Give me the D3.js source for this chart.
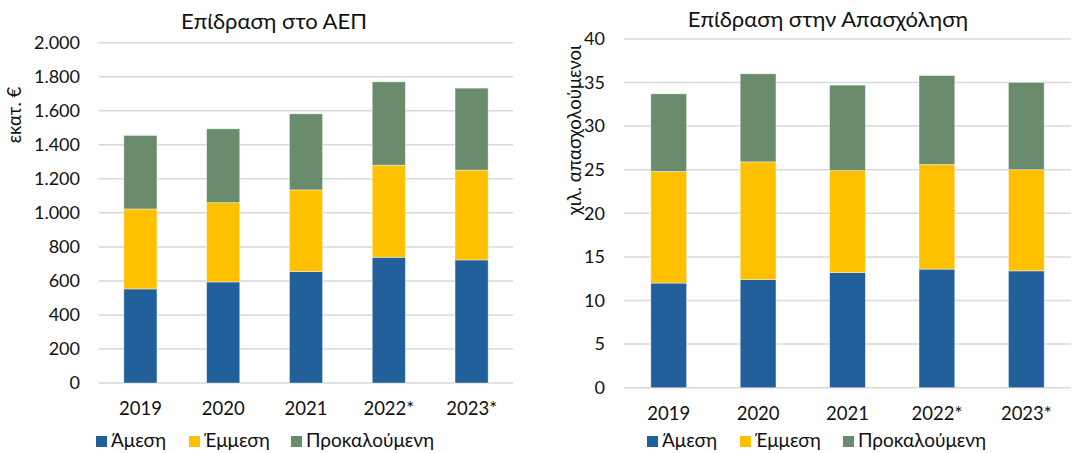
<!DOCTYPE html>
<html>
<head>
<meta charset="utf-8">
<script src="https://cdn.jsdelivr.net/npm/d3@7"></script>
<style>
  body { margin: 0; background: #fff; }
  svg text { font-family: Lato, "Open Sans", sans-serif; fill: #111; }
</style>
</head>
<body>
<div class="canvas"></div>
<script>
const years = ['2019', '2020', '2021', '2022*', '2023*'];
const seriesNames = ['Άμεση', 'Έμμεση', 'Προκαλούμενη'];
const colors = ['#21609b', '#ffc000', '#6b8c6c'];

// Επίδραση στο ΑΕΠ (εκατ. €)
const gdpDirect = [553, 594, 655, 739, 723];
const gdpIndirect = [470, 466, 480, 541, 528];
const gdpInduced = [432, 434, 447, 490, 482];
const gdpTicks = [0, 200, 400, 600, 800, 1000, 1200, 1400, 1600, 1800, 2000];

// Επίδραση στην Απασχόληση (χιλ. απασχολούμενοι)
const jobsDirect = [12.0, 12.4, 13.2, 13.6, 13.4];
const jobsIndirect = [12.8, 13.5, 11.7, 12.0, 11.6];
const jobsInduced = [8.9, 10.1, 9.8, 10.2, 10.0];
const jobsTicks = [0, 5, 10, 15, 20, 25, 30, 35, 40];

const width = 1080, height = 453;
const svg = d3.select('.canvas')
    .append('svg')
    .attr('width', width)
    .attr('height', height);

function drawPanel(cfg) {
    const rows = years.map((y, i) => ({
        year: y,
        [seriesNames[0]]: cfg.series[0][i],
        [seriesNames[1]]: cfg.series[1][i],
        [seriesNames[2]]: cfg.series[2][i]
    }));
    const stacked = d3.stack().keys(seriesNames)(rows);

    const x = d3.scaleBand()
        .domain(years)
        .range([cfg.left, cfg.right])
        .paddingInner(0.6)
        .paddingOuter(0.3);

    const y = d3.scaleLinear()
        .domain([0, cfg.max])
        .range([cfg.bottom, cfg.top]);

    const g = svg.append('g');

    //gridlines
    g.append('g')
        .selectAll('line')
        .data(cfg.ticks)
        .enter()
        .append('line')
        .attr('x1', cfg.left)
        .attr('x2', cfg.right)
        .attr('y1', d => y(d))
        .attr('y2', d => y(d))
        .attr('stroke', '#d9d9d9')
        .attr('stroke-width', 1.5);

    //bars
    g.append('g')
        .selectAll('g')
        .data(stacked)
        .enter()
        .append('g')
        .attr('fill', (d, i) => colors[i])
        .selectAll('rect')
        .data(d => d)
        .enter()
        .append('rect')
        .attr('x', d => x(d.data.year))
        .attr('width', x.bandwidth())
        .attr('y', d => y(d[1]))
        .attr('height', d => y(d[0]) - y(d[1]))
        .attr('stroke', 'rgba(255,255,255,0.5)')
        .attr('stroke-width', 0.8);

    //y-axis
    const yAxis = d3.axisLeft(y)
        .tickValues(cfg.ticks)
        .tickFormat(cfg.format)
        .tickSize(0)
        .tickPadding(cfg.yPad);
    g.append('g')
        .attr('transform', `translate(${cfg.left}, 0)`)
        .call(yAxis)
        .call(a => a.select('.domain').remove())
        .call(a => a.selectAll('text')
            .style('font-size', '18px')
            .attr('fill', '#111'));

    //x-axis
    const xAxis = d3.axisBottom(x).tickSize(0).tickPadding(cfg.xPad);
    g.append('g')
        .attr('transform', `translate(0, ${cfg.bottom})`)
        .call(xAxis)
        .call(a => a.select('.domain').remove())
        .call(a => a.selectAll('text')
            .style('font-size', '18.5px')
            .attr('fill', '#111'));

    //title
    g.append('text')
        .attr('x', cfg.titleX)
        .attr('y', cfg.titleY)
        .attr('text-anchor', 'middle')
        .style('font-size', '22px')
        .text(cfg.title);

    //y label
    g.append('text')
        .attr('transform', `translate(${cfg.labelX}, ${cfg.labelY}) rotate(-90)`)
        .attr('text-anchor', 'middle')
        .style('font-size', '18.5px')
        .text(cfg.yLabel);

    //legend
    const leg = g.append('g')
        .selectAll('g')
        .data(seriesNames)
        .enter()
        .append('g')
        .attr('transform', (d, i) => `translate(${cfg.legendX[i]}, ${cfg.legendY})`);
    leg.append('rect')
        .attr('width', 11)
        .attr('height', 11)
        .attr('y', -11)
        .attr('fill', (d, i) => colors[i]);
    leg.append('text')
        .attr('x', cfg.legendGap)
        .attr('y', 0)
        .style('font-size', '19px')
        .text(d => d);
}

drawPanel({
    series: [gdpDirect, gdpIndirect, gdpInduced],
    ticks: gdpTicks,
    max: 2000,
    format: d3.formatLocale({ decimal: ',', thousands: '.', grouping: [3], currency: ['', '€'] }).format(',.0f'),
    left: 99, right: 513, top: 42.7, bottom: 383,
    yPad: 19, xPad: 19,
    title: 'Επίδραση στο ΑΕΠ', titleX: 274, titleY: 29,
    yLabel: 'εκατ. €', labelX: 21, labelY: 115,
    legendX: [96, 189, 291], legendY: 447, legendGap: 15
});

drawPanel({
    series: [jobsDirect, jobsIndirect, jobsInduced],
    ticks: jobsTicks,
    max: 40,
    format: d3.format('d'),
    left: 624, right: 1071, top: 38.9, bottom: 387.7,
    yPad: 19, xPad: 19,
    title: 'Επίδραση στην Απασχόληση', titleX: 828, titleY: 27,
    yLabel: 'χιλ. απασχολούμενοι', labelX: 581, labelY: 130,
    legendX: [647, 740, 843], legendY: 447, legendGap: 15
});
</script>
</body>
</html>
